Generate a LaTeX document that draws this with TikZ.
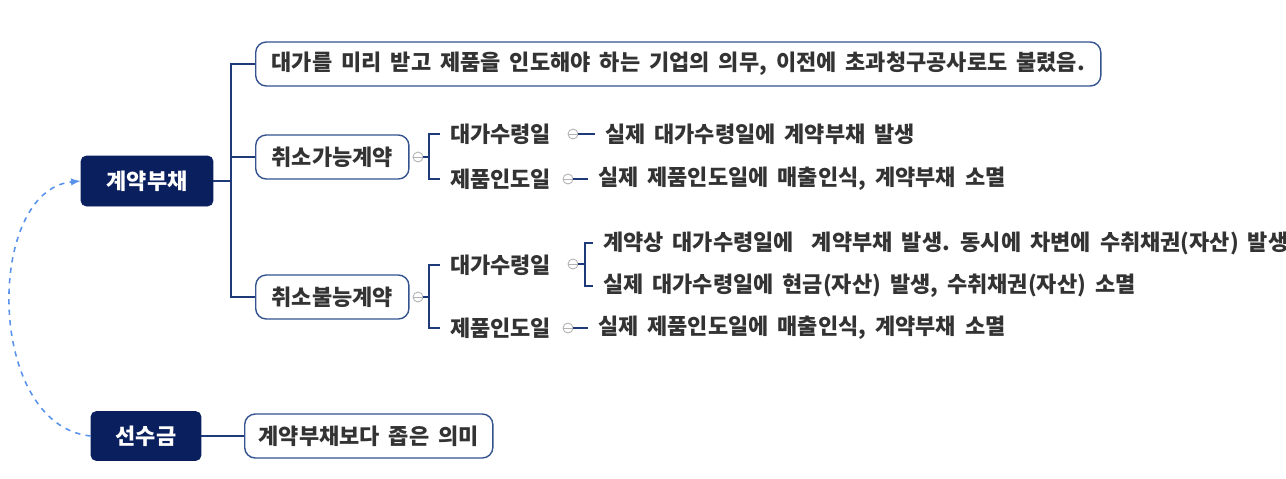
\documentclass[tikz,border=0pt]{standalone}
\usepackage{fontspec}
\setmainfont{Noto Sans CJK KR}[WordSpace = 1.8]
\usetikzlibrary{positioning}
\definecolor{navy}{HTML}{0A1F5E}
\definecolor{linkblue}{HTML}{1F3A78}
\definecolor{edgeblue}{HTML}{34538F}
\definecolor{dashblue}{HTML}{5A93EC}
\definecolor{txtgray}{HTML}{333333}
\tikzset{
	rootbox/.style = {draw = navy, fill = navy, rounded corners = 3pt, text = white,
		font = \bfseries\fontsize{12.5}{15}\selectfont, inner sep = 0pt},
	topicbox/.style = {draw = edgeblue, fill = white, line width = 0.8pt, rounded corners = 6pt,
		text = txtgray, font = \bfseries\fontsize{12.5}{15}\selectfont, anchor = west,
		minimum height = 0.88cm, inner xsep = 0.32cm},
	leaf/.style = {anchor = west, text = txtgray, font = \bfseries\fontsize{12.5}{15}\selectfont,
		inner xsep = 0.2cm, inner ysep = 0pt, outer sep = 0pt},
	link/.style = {draw = linkblue, line width = 1.2pt},
	twig/.style = {draw = linkblue, line width = 0.8pt},
	fold/.style = {circle, draw = gray!60, fill = white, line width = 0.5pt, inner sep = 0pt,
		minimum size = 0.2cm, outer sep = 0pt,
		path picture = {\draw[gray!60, line width = 0.5pt] (path picture bounding box.west) -- (path picture bounding box.east);}}
}
\begin{document}
\begin{tikzpicture}[x = 0.02cm, y = -0.02cm]
	\useasboundingbox (0,0) rectangle (1286,478);
	% main topics
	\node[rootbox, minimum width = 2.64cm, minimum height = 1cm] (liab) at (147,181) {계약부채};
	\node[rootbox, minimum width = 2.2cm, minimum height = 0.98cm] (adv) at (146,436) {선수금};
	% branches of liab
	\node[topicbox] (def) at (255,64) {대가를 미리 받고 제품을 인도해야 하는 기업의 의무, 이전에 초과청구공사로도 불렸음.};
	\node[topicbox] (canc) at (255,157) {취소가능계약};
	\node[topicbox] (nonc) at (255,297) {취소불능계약};
	\node[topicbox, inner xsep = 0.28cm] (narrow) at (244,436) {계약부채보다 좁은 의미};
	\draw[link] (liab.east) -- (231,181) coordinate (trunk);
	\draw[link] (def.west) -| (trunk) |- (nonc.west);
	\draw[link] (trunk) |- (canc.west);
	\draw[link] (adv.east) -- (narrow.west);
	% cancellable
	\node[fold] (cfold) at (418,157) {};
	\node[leaf] (cpay) at (440,134) {대가수령일};
	\node[leaf] (cdel) at (440,179) {제품인도일};
	\draw[twig] (cfold.east) -- (429,157) coordinate (cbr);
	\draw[twig] (cpay.west) -| (cbr) |- (cdel.west);
	\node[fold] (cpfold) at (573,134) {};
	\node[fold] (cdfold) at (568,179) {};
	\node[leaf] (cpaytxt) at (595,134) {실제 대가수령일에 계약부채 발생};
	\node[leaf] (cdeltxt) at (588,179) {실제 제품인도일에 매출인식, 계약부채 소멸};
	\draw[twig] (cpfold.east) -- (cpaytxt.west);
	\draw[twig] (cdfold.east) -- (cdeltxt.west);
	% non-cancellable
	\node[fold] (nfold) at (418,297) {};
	\node[leaf] (npay) at (440,265) {대가수령일};
	\node[leaf] (ndel) at (440,328) {제품인도일};
	\draw[twig] (nfold.east) -- (429,297) coordinate (nbr);
	\draw[twig] (npay.west) -| (nbr) |- (ndel.west);
	\node[fold] (npfold) at (573,264) {};
	\node[leaf] (npaya) at (593,243) {계약상 대가수령일에 \ 계약부채 발생. 동시에 차변에 수취채권(자산) 발생};
	\node[leaf] (npayb) at (593,286) {실제 대가수령일에 현금(자산) 발생, 수취채권(자산) 소멸};
	\draw[twig] (npfold.east) -- (585,264) coordinate (npbr);
	\draw[twig] (npaya.west) -| (npbr) |- (npayb.west);
	\node[fold] (ndfold) at (568,328) {};
	\node[leaf] (ndeltxt) at (588,328) {실제 제품인도일에 매출인식, 계약부채 소멸};
	\draw[twig] (ndfold.east) -- (ndeltxt.west);
	% relation
	\draw[dashblue, dashed, line width = 0.9pt, -latex] (adv.west) .. controls (-15,425) and (-15,190) .. (liab.west);
\end{tikzpicture}
\end{document}
